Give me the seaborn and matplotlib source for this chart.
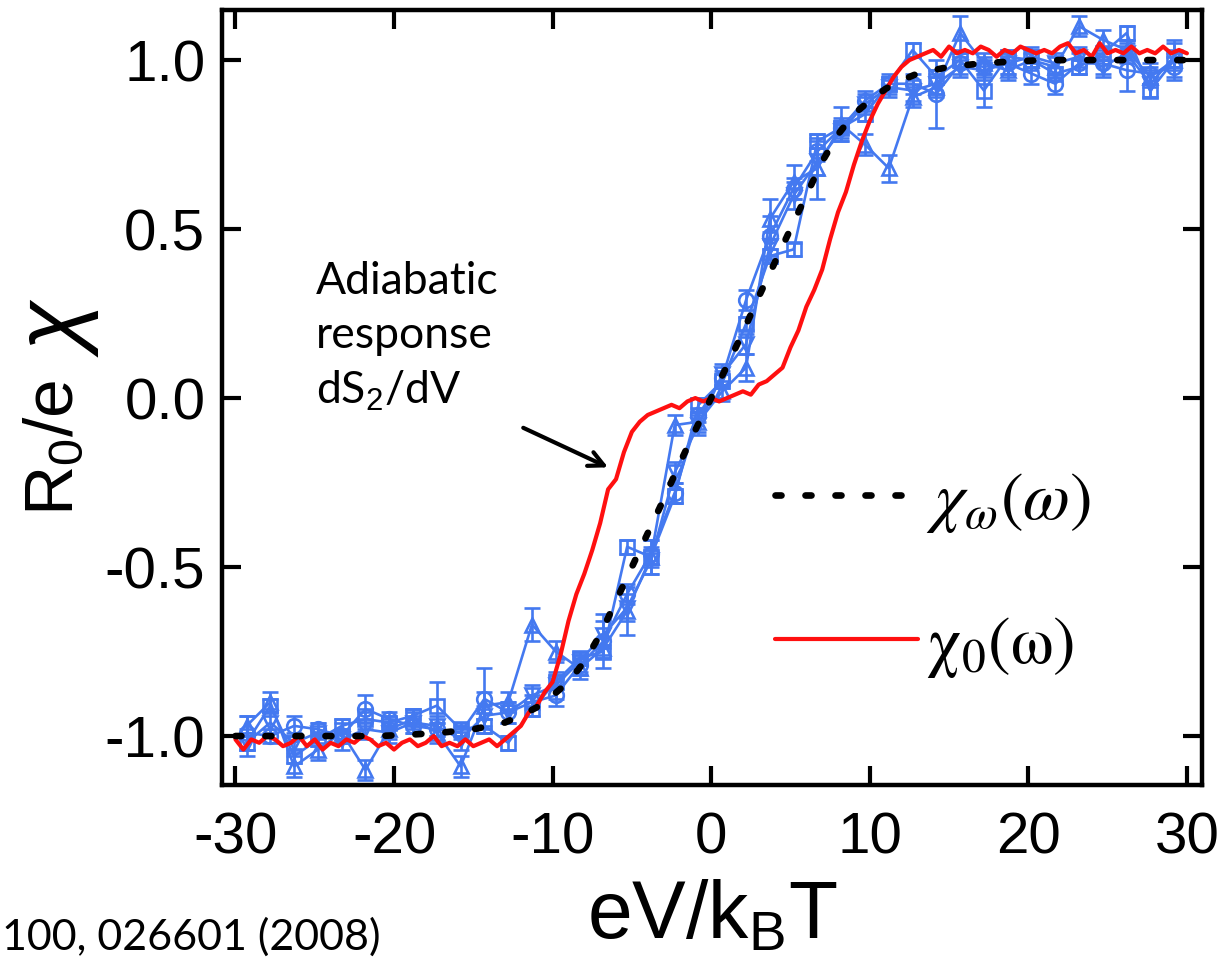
import numpy as np
import pandas as pd
import matplotlib
matplotlib.use("Agg")
import matplotlib.pyplot as plt
import seaborn as sns

# ---------------- data ----------------
# theoretical curve chi_omega(omega), sampled at integer eV/kBT
x_theory = np.arange(-30, 31, 1.0)
chi_omega = [-1.0, -1.0, -1.0, -1.0, -1.0, -1.0, -1.0, -1.0, -1.0, -1.0,
             -0.998, -0.996, -0.993, -0.99, -0.985, -0.98, -0.97, -0.96, -0.94, -0.915,
             -0.88, -0.84, -0.78, -0.70, -0.60, -0.50, -0.40, -0.30, -0.195, -0.095,
             0.0,
             0.095, 0.195, 0.30, 0.40, 0.50, 0.60, 0.70, 0.78, 0.84, 0.88,
             0.915, 0.94, 0.96, 0.97, 0.98, 0.985, 0.99, 0.993, 0.996, 0.998,
             1.0, 1.0, 1.0, 1.0, 1.0, 1.0, 1.0, 1.0, 1.0, 1.0]

# adiabatic response chi_0(omega), sampled every 0.5 eV/kBT
x_adiabatic = np.arange(-30, 30.01, 0.5)
chi_zero = [-1.01, -1.04, -1.01, -1.02, -1.00, -1.01, -1.03, -1.02, -1.00, -1.03,
            -1.01, -1.04, -1.02, -1.03, -1.01, -1.02, -1.00, -1.01, -1.03, -1.02,
            -1.04, -1.02, -1.01, -1.03, -1.02, -1.00, -1.03, -1.02, -1.03, -1.01,
            -1.03, -1.02, -1.01, -1.03, -1.01, -0.99, -0.97, -0.93, -0.91, -0.87,
            -0.84, -0.76, -0.66, -0.58, -0.52, -0.45, -0.37, -0.27, -0.24, -0.16,
            -0.10, -0.07, -0.05, -0.04, -0.03, -0.02, -0.03, -0.01, 0.00, -0.01,
            0.00, -0.01, 0.00, 0.01, 0.02, 0.01, 0.04, 0.05, 0.07, 0.09,
            0.15, 0.20, 0.27, 0.32, 0.38, 0.47, 0.55, 0.61, 0.69, 0.76,
            0.82, 0.87, 0.91, 0.95, 0.98, 1.00, 1.01, 1.02, 1.03, 1.01,
            1.04, 1.02, 1.03, 1.02, 1.04, 1.03, 1.01, 1.03, 1.02, 1.04,
            1.03, 1.02, 1.03, 1.02, 1.04, 1.05, 1.02, 1.03, 1.01, 1.05,
            1.02, 1.03, 1.02, 1.04, 1.02, 1.03, 1.02, 1.04, 1.02, 1.03, 1.02]

# measured response, four data sets
x_meas = [-29.3, -27.8, -26.3, -24.8, -23.3, -21.8, -20.3, -18.8, -17.3, -15.8,
          -14.3, -12.8, -11.3, -9.8, -8.3, -6.8, -5.3, -3.8, -2.3, -0.8,
          0.7, 2.2, 3.7, 5.2, 6.7, 8.2, 9.7, 11.2, 12.7, 14.2,
          15.7, 17.2, 18.7, 20.2, 21.7, 23.2, 24.7, 26.2, 27.7, 29.2]

meas_circle = [-0.99, -1.00, -0.97, -0.98, -1.00, -0.92, -0.95, -0.97, -0.98, -0.99,
               -0.89, -0.93, -0.90, -0.88, -0.79, -0.72, -0.58, -0.46, -0.28, -0.05,
               0.06, 0.29, 0.48, 0.62, 0.73, 0.80, 0.88, 0.93, 0.93, 0.90,
               0.99, 0.98, 0.99, 0.96, 0.93, 0.99, 0.99, 0.97, 0.96, 0.98]
err_circle = [0.05, 0.02, 0.03, 0.02, 0.02, 0.04, 0.02, 0.02, 0.02, 0.02,
              0.09, 0.03, 0.02, 0.03, 0.03, 0.08, 0.03, 0.04, 0.03, 0.02,
              0.02, 0.03, 0.06, 0.03, 0.03, 0.03, 0.03, 0.03, 0.03, 0.10,
              0.03, 0.03, 0.03, 0.03, 0.03, 0.03, 0.03, 0.06, 0.03, 0.03]

meas_square = [-1.02, -0.91, -1.06, -1.01, -0.97, -0.95, -0.96, -0.94, -0.91, -0.98,
               -0.97, -1.02, -0.92, -0.84, -0.77, -0.75, -0.44, -0.47, -0.29, -0.02,
               0.05, 0.22, 0.42, 0.44, 0.76, 0.80, 0.84, 0.93, 1.03, 0.95,
               1.00, 0.91, 1.01, 1.00, 0.96, 0.98, 1.02, 1.08, 0.91, 1.00]
err_square = [0.02, 0.02, 0.02, 0.02, 0.02, 0.03, 0.02, 0.02, 0.07, 0.02,
              0.02, 0.02, 0.02, 0.02, 0.02, 0.02, 0.02, 0.02, 0.02, 0.02,
              0.02, 0.02, 0.02, 0.02, 0.02, 0.02, 0.02, 0.02, 0.02, 0.02,
              0.02, 0.05, 0.02, 0.02, 0.02, 0.02, 0.02, 0.02, 0.02, 0.02]

meas_tri_up = [-0.97, -0.90, -1.09, -1.04, -0.99, -1.10, -0.98, -0.95, -0.99, -1.09,
               -0.91, -0.90, -0.67, -0.75, -0.80, -0.74, -0.63, -0.47, -0.08, -0.07,
               0.02, 0.09, 0.53, 0.64, 0.68, 0.81, 0.75, 0.68, 0.89, 0.92,
               1.08, 0.99, 0.97, 1.00, 0.98, 1.10, 1.06, 1.03, 0.95, 1.00]
err_tri_up = [0.03, 0.03, 0.03, 0.03, 0.03, 0.03, 0.03, 0.03, 0.03, 0.03,
              0.04, 0.03, 0.05, 0.03, 0.03, 0.03, 0.07, 0.05, 0.03, 0.03,
              0.03, 0.04, 0.06, 0.05, 0.09, 0.05, 0.03, 0.04, 0.03, 0.03,
              0.05, 0.03, 0.03, 0.03, 0.03, 0.03, 0.03, 0.03, 0.03, 0.06]

meas_tri_down = [-1.02, -0.96, -1.02, -0.99, -1.01, -0.98, -0.99, -0.96, -0.97, -1.01,
                 -0.94, -0.93, -0.88, -0.85, -0.78, -0.70, -0.62, -0.48, -0.22, -0.08,
                 0.07, 0.16, 0.45, 0.60, 0.70, 0.79, 0.87, 0.92, 0.91, 0.93,
                 0.98, 0.97, 0.99, 1.01, 0.99, 1.01, 0.98, 1.02, 0.93, 1.01]
err_tri_down = [0.04, 0.03, 0.03, 0.03, 0.03, 0.03, 0.03, 0.03, 0.03, 0.03,
                0.03, 0.03, 0.03, 0.04, 0.03, 0.04, 0.04, 0.04, 0.03, 0.03,
                0.03, 0.03, 0.04, 0.04, 0.04, 0.03, 0.03, 0.03, 0.03, 0.03,
                0.03, 0.03, 0.03, 0.03, 0.03, 0.03, 0.03, 0.03, 0.04, 0.04]

x_ticks = [-30, -20, -10, 0, 10, 20, 30]
y_ticks = [-1.0, -0.5, 0.0, 0.5, 1.0]

# ---------------- style ----------------
sns.set_theme(style="ticks")
plt.rcParams["font.family"] = ["Liberation Sans", "DejaVu Sans"]
plt.rcParams["text.color"] = "black"
plt.rcParams["axes.labelcolor"] = "black"
plt.rcParams["mathtext.fontset"] = "custom"
plt.rcParams["mathtext.rm"] = "Liberation Sans"
plt.rcParams["mathtext.it"] = "Liberation Sans:italic"
plt.rcParams["mathtext.bf"] = "Liberation Sans:bold"

BLUE = "#4479f0"
RED = "#ff1010"

fig = plt.figure(figsize=(12.27, 9.59), dpi=100)
ax = fig.add_axes([0.1809, 0.1814, 0.7987, 0.8081])

# measured data sets: open markers joined by thin lines, with error bars
sets = [(meas_circle, err_circle, "o"),
        (meas_square, err_square, "s"),
        (meas_tri_up, err_tri_up, "^"),
        (meas_tri_down, err_tri_down, "v")]
for vals, errs, mk in sets:
    df = pd.DataFrame({"x": x_meas, "y": vals})
    sns.lineplot(data=df, x="x", y="y", ax=ax, color=BLUE, lw=1.9,
                 marker=mk, markersize=10.5, markerfacecolor="none",
                 markeredgecolor=BLUE, markeredgewidth=1.9, legend=False)
    ax.errorbar(x_meas, vals, yerr=errs, fmt="none", ecolor=BLUE,
                elinewidth=1.9, capsize=6, capthick=1.9)

# adiabatic response
df_red = pd.DataFrame({"x": x_adiabatic, "y": chi_zero})
sns.lineplot(data=df_red, x="x", y="y", ax=ax, color=RED, lw=3.0, legend=False)
line_red = ax.lines[-1]
line_red.set_label(r"$\mathrm{\chi_0(\omega)}$")

# theory
df_th = pd.DataFrame({"x": x_theory, "y": chi_omega})
sns.lineplot(data=df_th, x="x", y="y", ax=ax, color="black", lw=4.8, legend=False)
line_th = ax.lines[-1]
line_th.set_dashes((0.9, 3.6))
line_th.set_dash_capstyle("round")
line_th.set_label(r"$\chi_\omega(\omega)$")

# axes
ax.set_xlim(-30.85, 30.95)
ax.set_ylim(-1.145, 1.148)
ax.set_xticks(x_ticks)
ax.set_xticklabels([str(v) for v in x_ticks])
ax.set_yticks(y_ticks)
ax.set_yticklabels([f"{v:.1f}" for v in y_ticks])
for s in ax.spines.values():
    s.set_visible(True)
    s.set_color("black")
    s.set_linewidth(3.2)
ax.tick_params(direction="in", length=14, width=3, top=True, right=True,
               colors="black", labelsize=42)
ax.tick_params(axis="x", pad=19)
ax.tick_params(axis="y", pad=12)
ax.set_xlabel("eV/k$_\\mathrm{B}$T", fontsize=58, labelpad=10)
ax.set_ylabel("")

# y-axis label: R0/e followed by a larger chi
fig.text(0.045, 0.462, "R$_0$/e", fontsize=50, rotation=90,
         ha="center", va="bottom", color="black")
fig.text(0.047, 0.628, "$\\chi$", fontsize=66, rotation=90,
         ha="center", va="bottom", color="black")

# legend
leg = ax.legend(handles=[line_th, line_red], loc="center left",
                bbox_to_anchor=(0.564, 0.272), frameon=False, fontsize=49,
                handlelength=2.1, handletextpad=0.12, labelspacing=1.15,
                borderpad=0, borderaxespad=0)
for t in leg.get_texts():
    t.set_math_fontfamily("stix")
    t.set_color("black")

# annotation
ax.text(-24.95, 0.405, "Adiabatic\nresponse\ndS$_2$/dV", fontsize=32,
        family=["Lato", "DejaVu Sans"], color="black",
        ha="left", va="top", linespacing=1.38)
ax.annotate("", xy=(-6.5, -0.205), xytext=(-11.85, -0.088),
            arrowprops=dict(arrowstyle="->,head_length=0.9,head_width=0.45",
                            lw=3.0, color="black", shrinkA=0, shrinkB=0))

fig.text(0.002, 0.002, "100, 026601 (2008)", fontsize=31,
         family=["Lato", "DejaVu Sans"], color="black", ha="left", va="bottom")

fig.savefig("out.png", dpi=100)
